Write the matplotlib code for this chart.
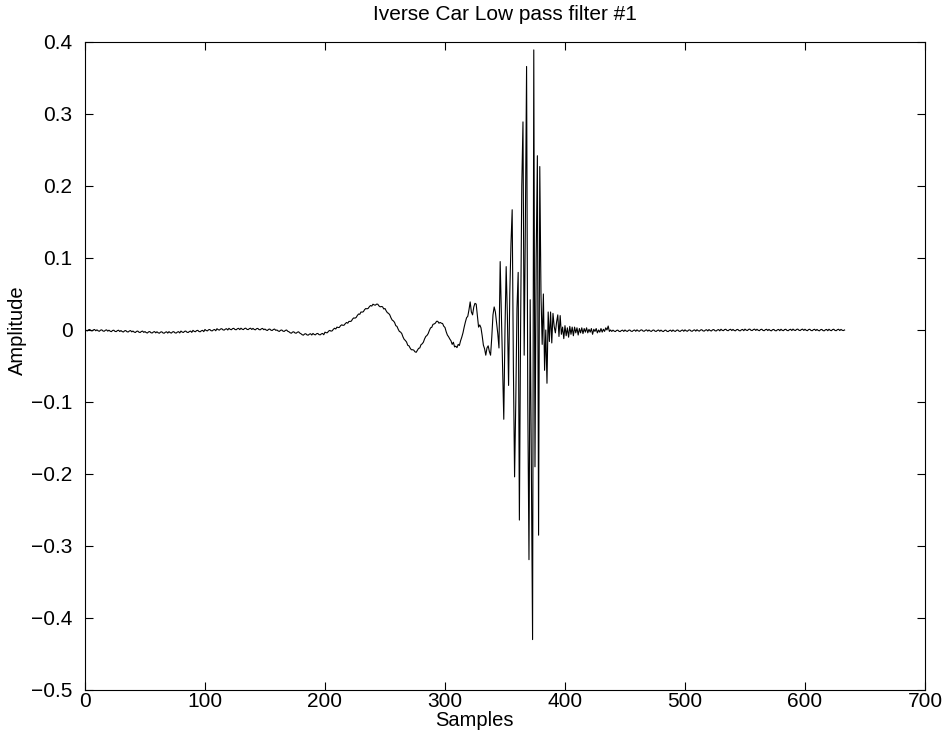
import numpy as np
import matplotlib
matplotlib.use("Agg")
import matplotlib.pyplot as plt
from matplotlib.ticker import FuncFormatter

# impulse response of the inverse filter, one value per sample
amp = [
    0.0000, -0.0007, -0.0013, 0.0003, 0.0007, -0.0009, -0.0013, 0.0001, 0.0007, -0.0011,
    0.0002, -0.0012, -0.0018, -0.0002, 0.0002, -0.0014, -0.0018, -0.0004, 0.0002, -0.0016,
    -0.0003, -0.0017, -0.0023, -0.0007, -0.0003, -0.0019, -0.0023, -0.0009, -0.0003, -0.0021,
    -0.0008, -0.0022, -0.0028, -0.0012, -0.0008, -0.0024, -0.0028, -0.0014, -0.0008, -0.0026,
    -0.0015, -0.0029, -0.0035, -0.0019, -0.0015, -0.0031, -0.0035, -0.0021, -0.0015, -0.0033,
    -0.0022, -0.0036, -0.0042, -0.0026, -0.0022, -0.0038, -0.0042, -0.0028, -0.0022, -0.0040,
    -0.0025, -0.0039, -0.0045, -0.0029, -0.0025, -0.0041, -0.0045, -0.0031, -0.0025, -0.0043,
    -0.0023, -0.0037, -0.0043, -0.0027, -0.0023, -0.0039, -0.0043, -0.0029, -0.0023, -0.0041,
    -0.0015, -0.0029, -0.0035, -0.0019, -0.0015, -0.0031, -0.0035, -0.0021, -0.0015, -0.0033,
    -0.0005, -0.0019, -0.0025, -0.0009, -0.0005, -0.0021, -0.0025, -0.0011, -0.0005, -0.0023,
    0.0007, -0.0007, -0.0013, 0.0003, 0.0007, -0.0009, -0.0013, 0.0001, 0.0007, -0.0011,
    0.0018, 0.0004, -0.0002, 0.0014, 0.0018, 0.0002, -0.0002, 0.0012, 0.0018, 0.0000,
    0.0023, 0.0009, 0.0003, 0.0019, 0.0023, 0.0007, 0.0003, 0.0017, 0.0023, 0.0005,
    0.0025, 0.0011, 0.0005, 0.0021, 0.0025, 0.0009, 0.0005, 0.0019, 0.0025, 0.0007,
    0.0022, 0.0008, 0.0002, 0.0018, 0.0022, 0.0006, 0.0002, 0.0016, 0.0022, 0.0004,
    0.0013, -0.0001, -0.0007, 0.0009, 0.0013, -0.0003, -0.0007, 0.0007, 0.0013, -0.0005,
    0.0000, -0.0014, -0.0020, -0.0004, 0.0000, -0.0016, -0.0020, -0.0006, 0.0000, -0.0018,
    -0.0025, -0.0039, -0.0045, -0.0029, -0.0025, -0.0041, -0.0045, -0.0031, -0.0025, -0.0043,
    -0.0052, -0.0066, -0.0072, -0.0056, -0.0052, -0.0068, -0.0072, -0.0058, -0.0052, -0.0070,
    -0.0048, -0.0062, -0.0068, -0.0052, -0.0048, -0.0064, -0.0068, -0.0054, -0.0048, -0.0066,
    -0.0030, -0.0038, -0.0038, -0.0016, -0.0006, -0.0016, -0.0012, 0.0010, 0.0024, 0.0014,
    0.0040, 0.0034, 0.0036, 0.0060, 0.0072, 0.0064, 0.0068, 0.0090, 0.0104, 0.0094,
    0.0120, 0.0118, 0.0124, 0.0152, 0.0168, 0.0164, 0.0174, 0.0202, 0.0222, 0.0218,
    0.0250, 0.0248, 0.0254, 0.0282, 0.0298, 0.0294, 0.0300, 0.0324, 0.0340, 0.0332,
    0.0358, 0.0348, 0.0345, 0.0359, 0.0358, 0.0334, 0.0322, 0.0326, 0.0322, 0.0292,
    0.0298, 0.0266, 0.0240, 0.0231, 0.0210, 0.0169, 0.0138, 0.0126, 0.0105, 0.0060,
    0.0050, 0.0011, -0.0020, -0.0029, -0.0050, -0.0096, -0.0130, -0.0146, -0.0168, -0.0213,
    -0.0220, -0.0252, -0.0275, -0.0274, -0.0280, -0.0303, -0.0310, -0.0281, -0.0255, -0.0250,
    -0.0205, -0.0192, -0.0170, -0.0124, -0.0090, -0.0076, -0.0050, -0.0006, 0.0030, 0.0037,
    0.0078, 0.0084, 0.0095, 0.0121, 0.0120, 0.0094, 0.0105, 0.0094, 0.0090, 0.0052,
    0.0035, -0.0024, -0.0070, -0.0094, -0.0125, -0.0150, -0.0200, -0.0170, -0.0235, -0.0225,
    -0.0245, -0.0200, -0.0215, -0.0150, -0.0100, -0.0040, 0.0040, 0.0110, 0.0170, 0.0190,
    0.0280, 0.0390, 0.0250, 0.0210, 0.0320, 0.0370, 0.0360, 0.0200, 0.0040, 0.0070,
    0.0030, -0.0080, -0.0210, -0.0260, -0.0350, -0.0250, -0.0220, -0.0300, -0.0350, -0.0100,
    0.0210, 0.0320, 0.0250, 0.0100, -0.0050, -0.0250, 0.0950, 0.0200, -0.0600, -0.1240,
    0.0000, 0.0880, 0.0200, -0.0770, 0.0500, 0.1200, 0.1670, -0.0500, -0.2040, -0.1000,
    0.0300, 0.0800, -0.2640, 0.0000, 0.2000, 0.2890, -0.0350, 0.1500, 0.3660, -0.1000,
    -0.3190, 0.0420, -0.2000, -0.4300, 0.3890, -0.1900, 0.1000, 0.2420, -0.2850, 0.2270,
    0.0500, -0.0200, 0.0500, -0.0560, 0.0000, -0.0740, 0.0250, -0.0160, 0.0250, -0.0180,
    0.0230, 0.0050, -0.0040, 0.0110, 0.0210, -0.0090, 0.0200, -0.0060, 0.0040, -0.0120,
    0.0060, -0.0080, 0.0030, -0.0100, 0.0050, -0.0060, 0.0040, -0.0080, 0.0040, -0.0040,
    0.0030, -0.0070, 0.0020, -0.0040, 0.0030, -0.0050, 0.0020, -0.0030, 0.0030, -0.0040,
    0.0010, -0.0030, 0.0020, -0.0060, 0.0010, -0.0020, 0.0020, -0.0040, 0.0000, -0.0030,
    0.0020, -0.0030, 0.0010, -0.0020, 0.0030, 0.0000, 0.0055, -0.0020, 0.0000, -0.0020,
    -0.0002, -0.0016, -0.0022, -0.0006, -0.0002, -0.0018, -0.0022, -0.0008, -0.0002, -0.0020,
    0.0000, -0.0014, -0.0020, -0.0004, 0.0000, -0.0016, -0.0020, -0.0006, 0.0000, -0.0018,
    0.0002, -0.0012, -0.0018, -0.0002, 0.0002, -0.0014, -0.0018, -0.0004, 0.0002, -0.0016,
    0.0000, -0.0014, -0.0020, -0.0004, 0.0000, -0.0016, -0.0020, -0.0006, 0.0000, -0.0018,
    -0.0002, -0.0016, -0.0022, -0.0006, -0.0002, -0.0018, -0.0022, -0.0008, -0.0002, -0.0020,
    0.0000, -0.0014, -0.0020, -0.0004, 0.0000, -0.0016, -0.0020, -0.0006, 0.0000, -0.0018,
    0.0002, -0.0012, -0.0018, -0.0002, 0.0002, -0.0014, -0.0018, -0.0004, 0.0002, -0.0016,
    0.0004, -0.0010, -0.0016, 0.0000, 0.0004, -0.0012, -0.0016, -0.0002, 0.0004, -0.0014,
    0.0006, -0.0008, -0.0014, 0.0002, 0.0006, -0.0010, -0.0014, 0.0000, 0.0006, -0.0012,
    0.0010, -0.0004, -0.0010, 0.0006, 0.0010, -0.0006, -0.0010, 0.0004, 0.0010, -0.0008,
    0.0008, -0.0006, -0.0012, 0.0004, 0.0008, -0.0008, -0.0012, 0.0002, 0.0008, -0.0010,
    0.0012, -0.0002, -0.0008, 0.0008, 0.0012, -0.0004, -0.0008, 0.0006, 0.0012, -0.0006,
    0.0010, -0.0004, -0.0010, 0.0006, 0.0010, -0.0006, -0.0010, 0.0004, 0.0010, -0.0008,
    0.0008, -0.0006, -0.0012, 0.0004, 0.0008, -0.0008, -0.0012, 0.0002, 0.0008, -0.0010,
    0.0010, -0.0004, -0.0010, 0.0006, 0.0010, -0.0006, -0.0010, 0.0004, 0.0010, -0.0008,
    0.0012, -0.0002, -0.0008, 0.0008, 0.0012, -0.0004, -0.0008, 0.0006, 0.0012, -0.0006,
    0.0010, -0.0004, -0.0010, 0.0006, 0.0010, -0.0006, -0.0010, 0.0004, 0.0010, -0.0008,
    0.0008, -0.0006, -0.0012, 0.0004, 0.0008, -0.0008, -0.0012, 0.0002, 0.0008, -0.0010,
    0.0010, -0.0004, -0.0010, 0.0006, 0.0010, -0.0006, -0.0010, 0.0004, 0.0010, -0.0008,
    0.0008, -0.0004, -0.0008, 0.0000,
]
samples = np.arange(len(amp))

x_ticks = [0, 100, 200, 300, 400, 500, 600, 700]
y_ticks = [-0.5, -0.4, -0.3, -0.2, -0.1, 0, 0.1, 0.2, 0.3, 0.4]

plt.rcParams['font.family'] = ['Liberation Sans', 'DejaVu Sans']

fig = plt.figure(figsize=(9.43, 7.55), dpi=100)
ax = fig.add_axes([0.0901, 0.0861, 0.8908, 0.8583])

ax.plot(samples, amp, color='black', lw=0.8)

ax.set_xlim(0, 700)
ax.set_ylim(-0.5, 0.4)
ax.set_xticks(x_ticks)
ax.set_yticks(y_ticks)
fmt = FuncFormatter(lambda v, p: ('%g' % v).replace('-', '\u2212'))
ax.xaxis.set_major_formatter(fmt)
ax.yaxis.set_major_formatter(fmt)
ax.tick_params(direction='in', top=True, right=True, length=6, width=0.8,
               labelsize=15)
ax.tick_params(axis='y', pad=9)
ax.tick_params(axis='x', pad=1.5)
for s in ax.spines.values():
    s.set_linewidth(0.8)

ax.set_xlabel('Samples', fontsize=14.5)
ax.xaxis.set_label_coords(0.463, -0.032)
ax.xaxis.label.set_verticalalignment('top')
ax.set_ylabel('Amplitude', fontsize=14.5)
ax.yaxis.set_label_coords(-0.08, 0.556)
ax.yaxis.label.set_verticalalignment('center')
ax.set_title('Iverse Car Low pass filter #1', fontsize=15, pad=16)

fig.savefig('out.png', dpi=100)
